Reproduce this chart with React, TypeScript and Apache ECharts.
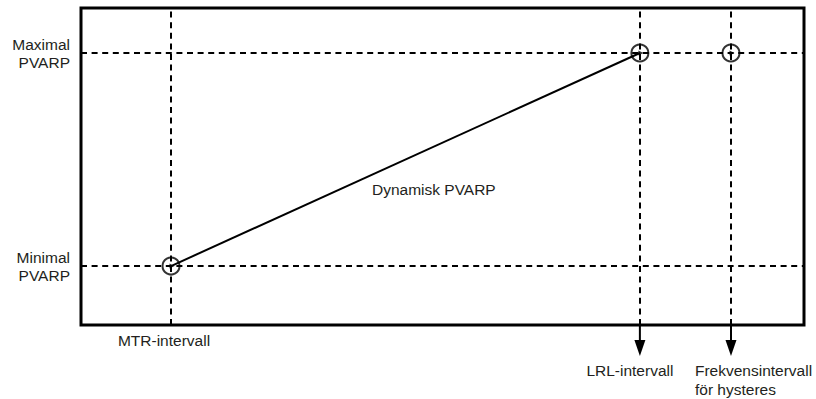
import React, { useEffect, useRef } from "react";
import * as echarts from "echarts";

// x positions of the vertical reference lines (arbitrary axis 0..100)
const xMarks = [12.45, 77.3, 89.9];
const xMarkLabels = ["MTR-intervall", "LRL-intervall", "Frekvensintervall\nför hysteres"];
const xMarkArrows = [false, true, true];

// y positions of the horizontal reference lines (arbitrary axis 0..100)
const yMarks = [18.6, 85.8];
const yMarkLabels = ["Minimal\nPVARP", "Maximal\nPVARP"];

const lineName = "Dynamisk PVARP";
const lineX = [12.45, 77.3];
const lineY = [18.6, 85.8];
const lineLabelCoord = [48.8, 42.6];

const circleX = [12.45, 77.3, 89.9];
const circleY = [18.6, 85.8, 85.8];

const FONT = "Liberation Sans, Arial, sans-serif";
const FS = 15.5;
const TXT = "#231f20";

export default function App() {
  const ref = useRef<HTMLDivElement>(null);
  useEffect(() => {
    if (!ref.current) return;
    const chart = echarts.init(ref.current, null, { renderer: "svg" });
    const option: any = {
      animation: false,
      backgroundColor: "#fff",
      grid: {
        left: 81,
        right: 12,
        top: 8,
        bottom: 74,
        show: true,
        borderColor: "#000",
        borderWidth: 3,
        backgroundColor: "transparent",
      },
      xAxis: {
        type: "value",
        min: 0,
        max: 100,
        axisLine: { show: false },
        axisTick: { show: false },
        splitLine: { show: false },
        axisLabel: { show: false },
      },
      yAxis: {
        type: "value",
        min: 0,
        max: 100,
        axisLine: { show: false },
        axisTick: { show: false },
        splitLine: { show: false },
        axisLabel: {
          customValues: yMarks,
          formatter: (v: number) => {
            const i = yMarks.findIndex((m) => Math.abs(m - v) < 1e-6);
            return i >= 0 ? yMarkLabels[i] : "";
          },
          align: "right",
          margin: 11,
          color: TXT,
          fontSize: FS,
          lineHeight: 18,
          fontFamily: FONT,
        },
      },
      series: [
        {
          type: "line",
          name: lineName,
          data: lineX.map((x, i) => [x, lineY[i]]),
          symbol: "none",
          lineStyle: { color: "#000", width: 2 },
          z: 3,
          markLine: {
            silent: true,
            symbol: "none",
            label: { show: false },
            lineStyle: { color: "#000", width: 2, type: [6, 4.6] },
            data: [
              ...xMarks.map((x) => ({ xAxis: x })),
              ...yMarks.map((y) => ({ yAxis: y })),
            ],
          },
          markPoint: {
            symbol: "rect",
            symbolSize: 1,
            itemStyle: { color: "rgba(0,0,0,0)" },
            label: {
              show: true,
              formatter: lineName,
              color: TXT,
              fontSize: FS,
              fontFamily: FONT,
              position: "inside",
            },
            data: [{ coord: lineLabelCoord }],
          },
        },
        {
          type: "scatter",
          data: circleX.map((x, i) => [x, circleY[i]]),
          symbol: "circle",
          symbolSize: 17,
          itemStyle: { color: "rgba(255,255,255,0)", borderColor: "#000", borderWidth: 2 },
          z: 4,
        },
        {
          type: "scatter",
          data: circleX.map((x, i) => [x, circleY[i]]),
          symbol: "triangle",
          symbolRotate: -90,
          symbolSize: 5,
          symbolOffset: [1, 0],
          itemStyle: { color: "#000" },
          z: 5,
        },
        {
          type: "custom",
          clip: false,
          data: xMarks.map((x, i) => [x, i]),
          renderItem: (params: any, api: any) => {
            const x = api.value(0);
            const i = api.value(1);
            const p = api.coord([x, 0]);
            const px = p[0];
            const py = p[1];
            const children: any[] = [];
            const textStyle = {
              fill: TXT,
              fontSize: FS,
              fontFamily: FONT,
              lineHeight: 19,
            };
            if (xMarkArrows[i]) {
              children.push({
                type: "line",
                shape: { x1: px, y1: py, x2: px, y2: py + 17 },
                style: { stroke: "#000", lineWidth: 2 },
              });
              children.push({
                type: "polygon",
                shape: { points: [[px - 5.5, py + 15], [px + 5.5, py + 15], [px, py + 31]] },
                style: { fill: "#000" },
              });
              const isFreq = xMarkLabels[i].indexOf("\n") >= 0;
              children.push({
                type: "text",
                x: isFreq ? px - 36 : px - 10,
                y: py + 36,
                style: {
                  ...textStyle,
                  text: xMarkLabels[i],
                  align: isFreq ? "left" : "center",
                  verticalAlign: "top",
                },
              });
            } else {
              children.push({
                type: "text",
                x: px - 7,
                y: py + 15,
                style: {
                  ...textStyle,
                  text: xMarkLabels[i],
                  align: "center",
                  verticalAlign: "middle",
                },
              });
            }
            return { type: "group", children };
          },
        },
      ],
    };
    chart.setOption(option);
    return () => chart.dispose();
  }, []);
  return (
    <div
      ref={ref}
      style={{ position: "absolute", left: 0, top: 0, width: 816, height: 399 }}
    />
  );
}
